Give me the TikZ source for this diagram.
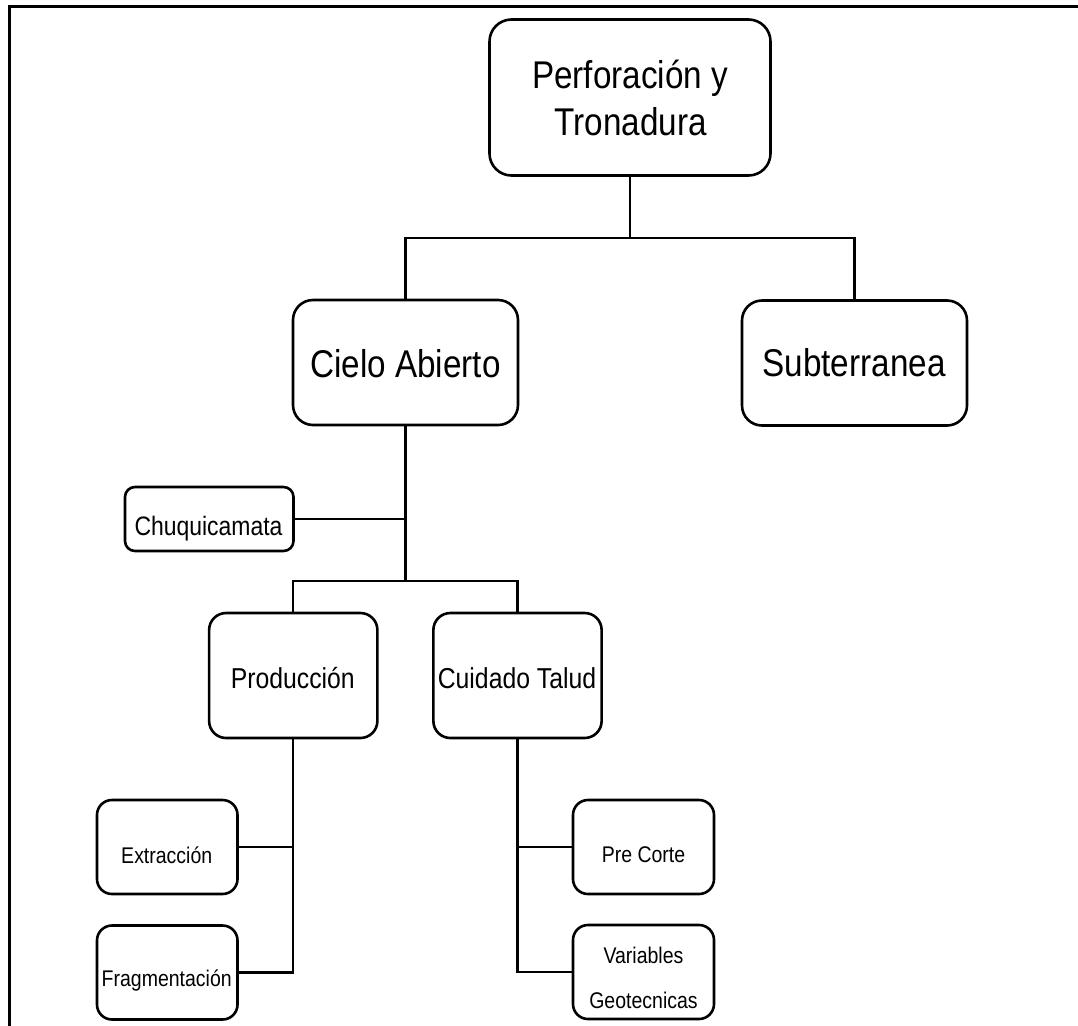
\documentclass[tikz,border=0pt]{standalone}
\usepackage{fontspec}
\setmainfont{Liberation Sans}[FakeStretch=0.86]
\begin{document}
\begin{tikzpicture}[x=0.75pt,y=-0.75pt,line join=miter,
  box/.style={draw=black,line width=1.95pt,rounded corners=#1,inner sep=0pt,fill=white},
  box/.default=12pt,
  conn/.style={draw=black,line width=1.65pt},
  lbl/.style={anchor=base,inner sep=0pt,text=black},
  bigf/.style={font=\fontsize{29pt}{35pt}\selectfont},
  midf/.style={font=\fontsize{21.6pt}{26pt}\selectfont},
  chuf/.style={font=\fontsize{20pt}{24pt}\selectfont},
  smf/.style={font=\fontsize{17pt}{20pt}\selectfont}]
\useasboundingbox (0,0) rectangle (1078,1025);
\fill[white] (0,0) rectangle (1078,1025);
% frame
\draw[line width=2.25pt] (9,1030) -- (9,6) -- (1080,6);

% boxes
\node[box=16.5pt,minimum width=210.75pt,minimum height=117pt] (top) at (630,97.5) {};
\node[box=15pt,minimum width=168.75pt,minimum height=93.75pt] (cielo) at (405.5,362.5) {};
\node[box=15pt,minimum width=168.75pt,minimum height=93.75pt] (sub) at (854.5,363) {};
\node[box=7.5pt,minimum width=126.4pt,minimum height=48pt] (chu) at (209.25,519) {};
\node[box=12.75pt,minimum width=126.2pt,minimum height=93.75pt] (prod) at (293.25,675.5) {};
\node[box=12.75pt,minimum width=126.2pt,minimum height=93.75pt] (cuid) at (517.5,675.5) {};
\node[box=11.25pt,minimum width=105.4pt,minimum height=70.5pt] (ext) at (167.25,847) {};
\node[box=11.25pt,minimum width=105.4pt,minimum height=70.5pt] (frag) at (167.25,972.5) {};
\node[box=11.25pt,minimum width=105.75pt,minimum height=70.5pt] (pre) at (643.5,847) {};
\node[box=11.25pt,minimum width=105.75pt,minimum height=70.5pt] (var) at (643.5,972) {};

% texts
\node[lbl,bigf] (topA) at (630,88) {Perforación y};
\node[lbl,bigf] (topB) at (630.5,135) {Tronadura};
\node[lbl,bigf] (cieloT) at (405.5,377) {Cielo Abierto};
\node[lbl,bigf] (subT) at (854,376.5) {Subterranea};
\node[lbl,chuf] (chuT) at (208.5,535) {Chuquicamata};
\node[lbl,midf] (prodT) at (292.75,688) {Producción};
\node[lbl,midf] (cuidT) at (517,688) {Cuidado Talud};
\node[lbl,smf] (extT) at (166.75,863) {Extracción};
\node[lbl,smf] (fragT) at (166.75,986) {Fragmentación};
\node[lbl,smf] (preT) at (643.5,862) {Pre Corte};
\node[lbl,smf] (varA) at (643.5,963) {Variables};
\node[lbl,smf] (varB) at (643.5,1008) {Geotecnicas};

% junctions
\coordinate (j1) at (630,238);
\coordinate (j2) at (405.5,581);

% connectors
\draw[conn] (top.south) -- (j1);
\draw[conn] (cielo.north) |- (j1) -| (sub.north);
\draw[conn] (cielo.south) -- (j2);
\draw[conn] (chu.east) -- (chu.east -| cielo.south);
\draw[conn] (prod.north) |- (j2) -| (cuid.north);
\draw[conn] (prod.south) |- (frag.east);
\draw[conn] (ext.east) -- (ext.east -| prod.south);
\draw[conn] (cuid.south) |- (var.west);
\draw[conn] (pre.west) -- (pre.west -| cuid.south);
\end{tikzpicture}
\end{document}
